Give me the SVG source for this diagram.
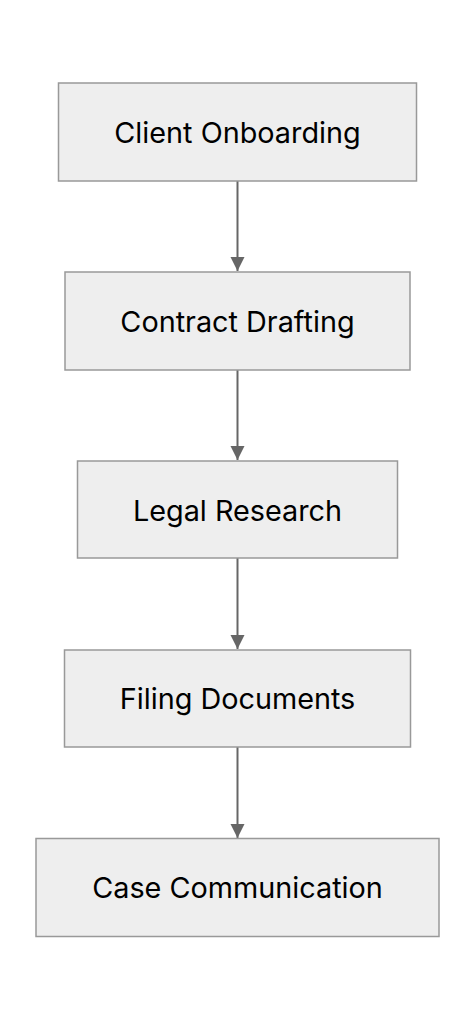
<svg xmlns="http://www.w3.org/2000/svg" width="474" height="1020" viewBox="0 0 474 1020">
<style>
.box{fill:#eeeeee;stroke:#999999;stroke-width:1.5}
.lbl{font-family:Inter,"Liberation Sans",sans-serif;font-size:28.8px;fill:#000;text-anchor:middle;dominant-baseline:central}
.edge{stroke:#666666;stroke-width:2;fill:none}
</style>
<defs>
<marker id="arr" viewBox="0 0 10 10" refX="10" refY="5" markerWidth="14" markerHeight="15" markerUnits="userSpaceOnUse" orient="auto">
<path d="M0,0 L10,5 L0,10 z" fill="#666666"/>
</marker>
</defs>
<rect width="474" height="1020" fill="#ffffff"/>
<g id="connectors">
<line class="edge" x1="237.5" y1="181" x2="237.5" y2="271" marker-end="url(#arr)"/>
<line class="edge" x1="237.5" y1="370" x2="237.5" y2="460" marker-end="url(#arr)"/>
<line class="edge" x1="237.5" y1="558" x2="237.5" y2="649" marker-end="url(#arr)"/>
<line class="edge" x1="237.5" y1="747" x2="237.5" y2="838" marker-end="url(#arr)"/>
</g>
<g id="n1"><rect class="box" x="58.5" y="83" width="358" height="98"/><text class="lbl" x="237.5" y="132">Client Onboarding</text></g>
<g id="n2"><rect class="box" x="65" y="272" width="345" height="98"/><text class="lbl" x="237.5" y="321">Contract Drafting</text></g>
<g id="n3"><rect class="box" x="77.5" y="461" width="320" height="97"/><text class="lbl" x="237.5" y="510">Legal Research</text></g>
<g id="n4"><rect class="box" x="64.5" y="650" width="346" height="97"/><text class="lbl" x="237.5" y="698.5">Filing Documents</text></g>
<g id="n5"><rect class="box" x="36" y="838.5" width="403" height="98"/><text class="lbl" x="237.5" y="887.5">Case Communication</text></g>
</svg>
